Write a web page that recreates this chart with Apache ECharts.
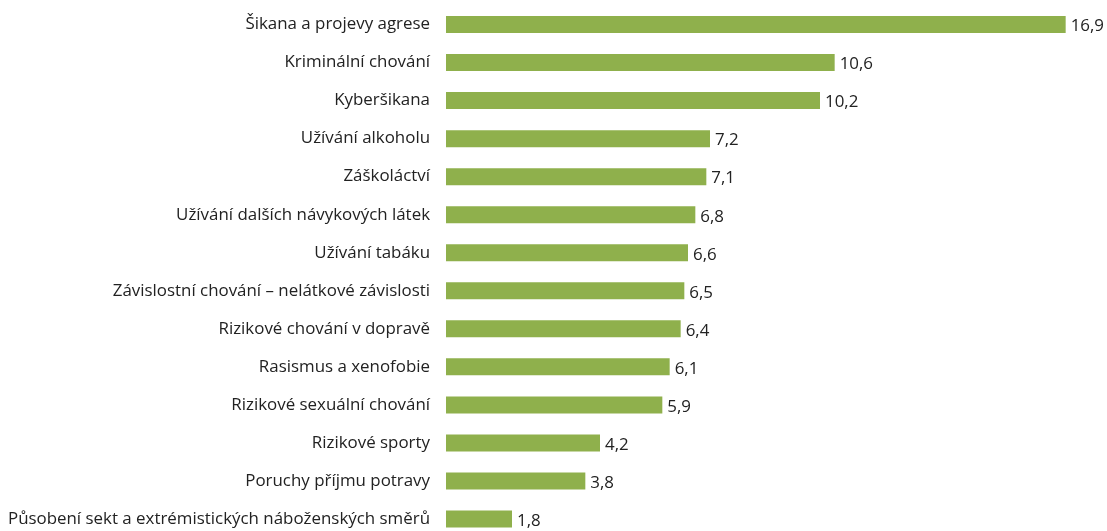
<!DOCTYPE html>
<html><head><meta charset="utf-8">
<script src="https://cdn.jsdelivr.net/npm/echarts@6/dist/echarts.min.js"></script>
<style>html,body{margin:0;padding:0;background:#fff;overflow:hidden}#c{width:1107px;height:545px}</style>
</head><body><div id="c"></div>
<script>
const categories = [
  "Šikana a projevy agrese",
  "Kriminální chování",
  "Kyberšikana",
  "Užívání alkoholu",
  "Záškoláctví",
  "Užívání dalších návykových látek",
  "Užívání tabáku",
  "Závislostní chování – nelátkové závislosti",
  "Rizikové chování v dopravě",
  "Rasismus a xenofobie",
  "Rizikové sexuální chování",
  "Rizikové sporty",
  "Poruchy příjmu potravy",
  "Působení sekt a extrémistických náboženských směrů"
];
const values = [16.9, 10.6, 10.2, 7.2, 7.1, 6.8, 6.6, 6.5, 6.4, 6.1, 5.9, 4.2, 3.8, 1.8];

const chart = echarts.init(document.getElementById('c'), null, {renderer: 'canvas'});
chart.setOption({
  animation: false,
  grid: {left: 446, top: 5.5, width: 660, height: 532.5, containLabel: false},
  xAxis: {type: 'value', min: 0, max: 18, show: false},
  yAxis: {
    type: 'category', data: categories, inverse: true,
    axisLine: {show: false}, axisTick: {show: false},
    axisLabel: {margin: 16, color: '#222', fontFamily: 'Open Sans', fontSize: 16.9}
  },
  series: [{
    type: 'bar', data: values, barWidth: 17,
    itemStyle: {color: '#8fb04c'},
    label: {show: true, position: 'right', distance: 5, offset: [0, 2], color: '#222',
      fontFamily: 'Open Sans', fontSize: 16.9,
      formatter: p => String(p.value).replace('.', ',')}
  }]
});
</script></body></html>
